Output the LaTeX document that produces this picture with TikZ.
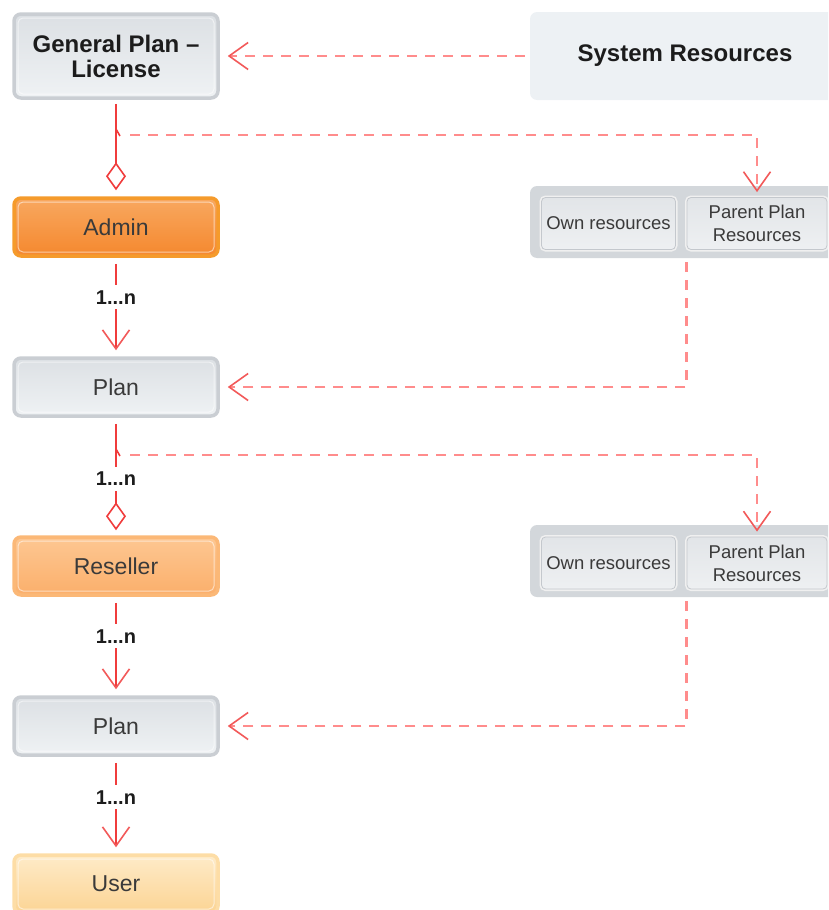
\documentclass[tikz,border=0pt]{standalone}
\usepackage{fontspec}
\setmainfont{Liberation Sans}
\usetikzlibrary{arrows.meta}

\definecolor{linered}{HTML}{F03C3C}
\definecolor{dashred}{HTML}{FF8C8C}
\definecolor{textgray}{HTML}{3A3A3A}
\definecolor{textdark}{HTML}{1C1C1C}
\definecolor{grayrim}{HTML}{CACED3}
\definecolor{graytop}{HTML}{DCE0E4}
\definecolor{graybot}{HTML}{EFF2F4}
\definecolor{adminrim}{HTML}{F59B2C}
\definecolor{admintop}{HTML}{F8A860}
\definecolor{adminbot}{HTML}{F5882E}
\definecolor{resrim}{HTML}{FBB877}
\definecolor{restop}{HTML}{FDC792}
\definecolor{resbot}{HTML}{FBAF6B}
\definecolor{userrim}{HTML}{FDDDA6}
\definecolor{usertop}{HTML}{FEEBC8}
\definecolor{userbot}{HTML}{FCD494}
\definecolor{sysfill}{HTML}{EDF1F4}
\definecolor{grpfill}{HTML}{D3D7DB}
\definecolor{cellrim}{HTML}{C4C8CD}
\definecolor{celltop}{HTML}{E2E5E8}
\definecolor{cellbot}{HTML}{EEF0F2}

\begin{document}
\begin{tikzpicture}[x=1pt, y=-1pt,
    hilite/.style={path picture={\draw[white, opacity=.55, line width=1pt, rounded corners=5pt]
        ([shift={(4pt,-4pt)}]path picture bounding box.north west) rectangle
        ([shift={(-4pt,4pt)}]path picture bounding box.south east);}},
    box/.style={rounded corners=7pt, line width=3.5pt, inner sep=0pt, minimum width=204pt,
        minimum height=58pt, text=textgray, font=\fontsize{23}{26}\selectfont, hilite},
    graybox/.style={box, draw=grayrim, top color=graytop, bottom color=graybot},
    cell/.style={rounded corners=4pt, draw=cellrim, line width=.8pt, top color=celltop,
        bottom color=cellbot, minimum height=52pt, inner sep=0pt, align=center, text=textgray,
        font=\fontsize{18.5}{23}\selectfont, preaction={draw=white!88!gray, line width=4pt}},
    group/.style={rounded corners=7pt, fill=grpfill, minimum width=310pt, minimum height=72pt},
    solidline/.style={draw=linered, line width=1.6pt},
    dashline/.style={draw=dashred, line width=2.4pt, dash pattern=on 10pt off 8pt},
    vtip/.style={-{Straight Barb[length=19pt, width=27pt, line width=1.6pt, color=linered!85]}},
    dtip/.style={-{Diamond[open, length=28pt, width=20pt, line width=1.6pt, color=linered, fill=white]}},
    mult/.style={fill=white, inner sep=5pt, text=textdark, font=\bfseries\fontsize{20}{22}\selectfont}]

    \clip (0,0) rectangle (828,910);

    % left column
    \node[graybox, minimum height=84pt, align=center, text=textdark,
        font=\bfseries\fontsize{24}{25}\selectfont] (gen) at (116,56) {General Plan --\\License};
    \node[box, draw=adminrim, top color=admintop, bottom color=adminbot] (admin) at (116,227) {Admin};
    \node[graybox] (plan1) at (116,387) {Plan};
    \node[box, draw=resrim, top color=restop, bottom color=resbot] (res) at (116,566) {Reseller};
    \node[graybox] (plan2) at (116,726) {Plan};
    \node[box, draw=userrim, top color=usertop, bottom color=userbot] (user) at (116,884) {User};

    % right column
    \node[rounded corners=7pt, fill=sysfill, minimum width=310pt, minimum height=88pt,
        text=textdark, font=\bfseries\fontsize{24}{26}\selectfont] (sys) at (685,56) {System Resources};
    \node[group] (grpA) at (685,222) {};
    \node[cell, minimum width=134pt] (ownA) at (608.5,223.5) {Own resources};
    \node[cell, minimum width=140pt] (parA) at (757,223.5) {Parent Plan\\Resources};
    \node[group] (grpB) at (685,561) {};
    \node[cell, minimum width=134pt] (ownB) at (608.5,563) {Own resources};
    \node[cell, minimum width=140pt] (parB) at (757,563) {Parent Plan\\Resources};

    % branch points
    \coordinate (brA) at (116,135);
    \coordinate (brB) at (116,455);

    % solid links
    \draw[solidline, dtip, shorten <=4pt, shorten >=6pt] (gen.south) -- (admin.north);
    \draw[solidline, vtip, shorten <=6pt, shorten >=6pt] (admin.south) -- node[mult, pos=.4]{1...n} (plan1.north);
    \draw[solidline, dtip, shorten <=6pt, shorten >=5pt] (plan1.south) -- node[mult, pos=.52]{1...n} (res.north);
    \draw[solidline, vtip, shorten <=6pt, shorten >=6pt] (res.south) -- node[mult, pos=.4]{1...n} (plan2.north);
    \draw[solidline, vtip, shorten <=6pt, shorten >=6pt] (plan2.south) -- node[mult, pos=.42]{1...n} (user.north);

    % hooks
    \draw[solidline] ([yshift=6pt]brA) -- ([shift={(4pt,-1pt)}]brA);
    \draw[solidline] ([yshift=6pt]brB) -- ([shift={(4pt,-1pt)}]brB);

    % dashed links
    \draw[dashline, vtip, shorten <=5pt, shorten >=8pt] (sys.west) -- (gen.east);
    \draw[dashline, vtip, shorten >=5pt] ([xshift=14pt]brA) -| (parA.north);
    \draw[dashline, vtip, shorten <=4pt, shorten >=8pt] (parA.west |- grpA.south) |- (plan1.east);
    \draw[dashline, vtip, shorten >=5pt] ([xshift=14pt]brB) -| (parB.north);
    \draw[dashline, vtip, shorten <=4pt, shorten >=8pt] (parB.west |- grpB.south) |- (plan2.east);
\end{tikzpicture}
\end{document}
